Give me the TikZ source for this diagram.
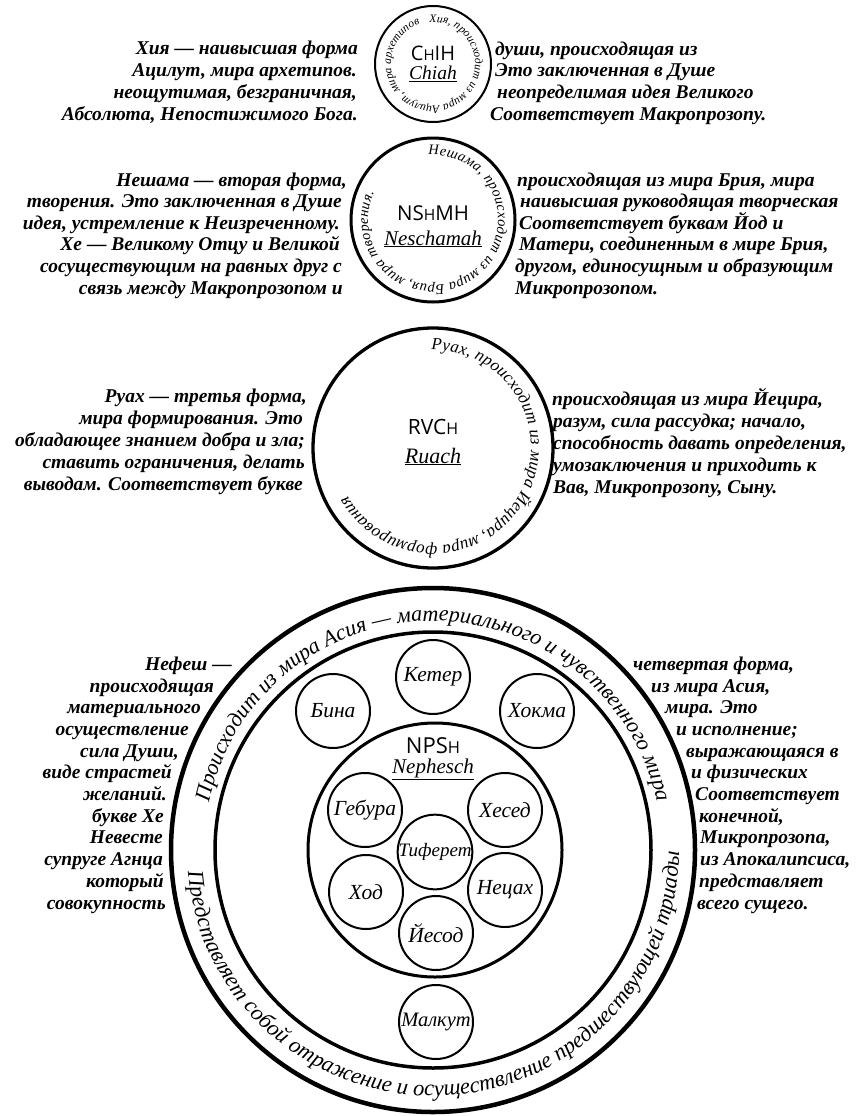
\documentclass[tikz,border=0pt]{standalone}
\usepackage{fontspec}
\setmainfont{Liberation Serif}
\newfontfamily\capsans{Open Sans}
\usetikzlibrary{decorations.text}
\newcommand\smallh[1]{{\fontsize{#1}{#1}\selectfont H}}
\tikzset{
  sidetxt/.style={font=\bfseries\itshape\fontsize{19.5}{21}\selectfont, inner sep=0pt},
  ring/.style={draw, circle, inner sep=0pt, line width=#1},
  sefira/.style={draw, circle, inner sep=0pt, minimum size=74pt, line width=2pt,
    font=\itshape\fontsize{21.5}{21.5}\selectfont},
  hebname/.style={font=\capsans\fontsize{#1}{#1}\selectfont, inner sep=0pt, anchor=base},
  latname/.style={font=\itshape\fontsize{#1}{#1}\selectfont, inner sep=0pt, anchor=base},
  ringtext/.style 2 args={decorate, decoration={text along path, text align={fit to path},
    text={|\itshape\fontsize{#1}{#1}\selectfont|#2}}},
}
\begin{document}
\begin{tikzpicture}[x=1pt,y=1pt]
\useasboundingbox (0,0) rectangle (862,-1116);

% ---- Chiah ----
\node[ring=2pt, minimum size=116pt] (chiah) at (433,-64) {};
\node[hebname=20] (chiahH) at (433,-60) {C\smallh{15}IH};
\node[latname=19.5] (chiahL) at (433,-80) {\underline{Chiah}};
\path[ringtext={11.5}{Хия, происходит из мира Ацилут, мира архетипов}]
  (chiah.center) ++(95:42pt) arc[start angle=95, end angle=-252, radius=42pt];

% ---- Neschamah ----
\node[ring=3pt, minimum size=164pt] (nesch) at (433,-220) {};
\node[hebname=20.5] (neschH) at (433,-220) {NS\smallh{15.5}MH};
\node[latname=21] (neschL) at (433,-245) {\underline{Neschamah}};
\path[ringtext={14.5}{Нешама, происходит из мира Брия, мира творения.}]
  (nesch.center) ++(94:65pt) arc[start angle=94, end angle=-205, radius=65pt];

% ---- Ruach ----
\node[ring=3.3pt, minimum size=240pt] (ruach) at (433,-448) {};
\node[hebname=21] (ruachH) at (433,-434) {RVC\smallh{16}};
\node[latname=22] (ruachL) at (433,-463) {\underline{Ruach}};
\path[ringtext={17}{Руах, происходит из мира Йецира, мира формирования}]
  (ruach.center) ++(91:98pt) arc[start angle=91, end angle=-151, radius=98pt];

% ---- Nephesch ----
\node[ring=4.5pt, minimum size=524pt] (asia) at (433,-850) {};
\node[ring=3.5pt, minimum size=436pt] (asiain) at (433,-850) {};
\node[ring=3pt, minimum size=254pt] (nephesch) at (435,-850) {};
\node[hebname=22] (nephH) at (433,-753) {NPS\smallh{16.5}};
\node[latname=21] (nephL) at (433,-773) {\underline{Nephesch}};
\path[ringtext={22}{Происходит из мира Асия — материального и чувственного мира}]
  (asia.center) ++(168:229pt) arc[start angle=168, end angle=12, radius=229pt];
\path[ringtext={22.5}{Представляет собой отражение и осуществление предшествующей триады}]
  (asia.center) ++(185:246pt) arc[start angle=185, end angle=358, radius=246pt];

% sephirot
\node[sefira] (keter)   at (433,-677) {Кетер};
\node[sefira] (bina)    at (333,-711) {Бина};
\node[sefira] (hokma)   at (537,-711) {Хокма};
\node[sefira] (gebura)  at (365,-810) {Гебура};
\node[sefira] (hesed)   at (505,-810) {Хесед};
\node[sefira, minimum size=72pt, font=\itshape\fontsize{19}{19}\selectfont] (tiferet) at (435,-852) {Тиферет};
\node[sefira] (hod)     at (366,-892) {Ход};
\node[sefira] (netzah)  at (505,-890) {Нецах};
\node[sefira] (yesod)   at (436,-933) {Йесод};
\node[sefira, font=\itshape\fontsize{20.5}{20.5}\selectfont] (malkut) at (436,-1022) {Малкут};

% ---- side texts ----
\foreach \t/\x/\y [count=\i] in {
  {Хия — наивысшая форма}/358/55,
  {Ацилут, мира архетипов.}/357/77,
  {неощутимая, безграничная,}/357/99,
  {Абсолюта, Непостижимого Бога.}/358/120}
  \node[sidetxt, anchor=base east] (chl\i) at (\x,-\y) {\t};
\foreach \t/\x/\y [count=\i] in {
  {души, происходящая из}/495/56,
  {Это заключенная в Душе}/495/77,
  {неопределимая идея Великого}/497/99,
  {Соответствует Макропрозопу.}/490/120}
  \node[sidetxt, anchor=base west] (chr\i) at (\x,-\y) {\t};

\foreach \t/\x/\y [count=\i] in {
  {Нешама — вторая форма,}/347/186,
  {творения. Это заключенная в Душе}/342/207,
  {идея, устремление к Неизреченному.}/340/229,
  {Хе — Великому Отцу и Великой}/340/250,
  {сосуществующим на равных друг с}/342/272,
  {связь между Макропрозопом и}/343/294}
  \node[sidetxt, anchor=base east] (nel\i) at (\x,-\y) {\t};
\foreach \t/\x/\y [count=\i] in {
  {происходящая из мира Брия, мира}/517/186,
  {наивысшая руководящая творческая}/520/207,
  {Соответствует буквам Йод и}/519/229,
  {Матери, соединенным в мире Брия,}/519/250,
  {другом, единосущным и образующим}/515/272,
  {Микропрозопом.}/515/294}
  \node[sidetxt, anchor=base west] (ner\i) at (\x,-\y) {\t};

\foreach \t/\x/\y [count=\i] in {
  {Руах — третья форма,}/307/402,
  {мира формирования. Это}/303/424,
  {обладающее знанием добра и зла;}/305/446,
  {ставить ограничения, делать}/305/468,
  {выводам. Соответствует букве}/303/490}
  \node[sidetxt, anchor=base east] (rul\i) at (\x,-\y) {\t};
\foreach \t/\x/\y [count=\i] in {
  {происходящая из мира Йецира,}/552/405,
  {разум, сила рассудка; начало,}/553/427,
  {способность давать определения,}/553/449,
  {умозаключения и приходить к}/553/471,
  {Вав, Микропрозопу, Сыну.}/553/493}
  \node[sidetxt, anchor=base west] (rur\i) at (\x,-\y) {\t};

\foreach \t/\x/\y [count=\i] in {
  {Нефеш —}/232/670,
  {происходящая}/214/692,
  {материального}/201/713,
  {осуществление}/189/735,
  {сила Души,}/179/757,
  {виде страстей}/172/778,
  {желаний.}/167/800,
  {букве Хе}/164/822,
  {Невесте}/163/843,
  {супруге Агнца}/163/865,
  {который}/164/887,
  {совокупность}/166/909}
  \node[sidetxt, anchor=base east] (nfl\i) at (\x,-\y) {\t};
\foreach \t/\x/\y [count=\i] in {
  {четвертая форма,}/633/670,
  {из мира Асия,}/651/692,
  {мира. Это}/665/713,
  {и исполнение;}/676/735,
  {выражающаяся в}/686/757,
  {и физических}/691/778,
  {Соответствует}/695/800,
  {конечной,}/699/822,
  {Микропрозопа,}/700/843,
  {из Апокалипсиса,}/700/865,
  {представляет}/699/887,
  {всего сущего.}/697/909}
  \node[sidetxt, anchor=base west] (nfr\i) at (\x,-\y) {\t};
\end{tikzpicture}
\end{document}
